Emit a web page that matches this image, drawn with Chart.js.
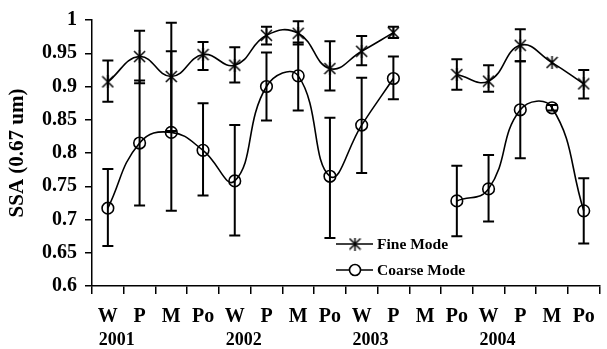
<!DOCTYPE html>
<html lang="en">
<head>
    <meta charset="UTF-8">
    <title>SSA Fine / Coarse Mode</title>
    <script src="https://cdn.jsdelivr.net/npm/chart.js"></script>
    <style>
        html, body { margin: 0; padding: 0; background: #fff; }
        #wrap { width: 607px; height: 349px; }
    </style>
</head>
<body>
    <div id="wrap"><canvas id="ssa-chart"></canvas></div>

    <script>
        // Seasons per year (W, P, M, Po) and the years under them
        const categories = ['W','P','M','Po','W','P','M','Po','W','P','M','Po','W','P','M','Po'];
        const years = ['2001', '2002', '2003', '2004'];

        // Fine mode SSA with error bar ends
        const fineSSA   = [0.907, 0.945, 0.915, 0.948, 0.932, 0.977, 0.980, 0.927, 0.953, 0.981, null, 0.918, 0.908, 0.962, 0.936, 0.904];
        const fineUpper = [0.939, 0.984, 0.996, 0.967, 0.959, 0.990, 0.998, 0.968, 0.976, 0.990, null, 0.941, 0.932, 0.986, null, 0.925];
        const fineLower = [0.877, 0.905, 0.833, 0.925, 0.906, 0.963, 0.963, 0.894, 0.932, 0.973, null, 0.895, 0.892, 0.938, null, 0.882];

        // Coarse mode SSA with error bar ends
        const coarseSSA   = [0.717, 0.815, 0.831, 0.804, 0.758, 0.900, 0.916, 0.765, 0.842, 0.912, null, 0.728, 0.746, 0.865, 0.868, 0.713];
        const coarseUpper = [0.776, 0.909, 0.953, 0.875, 0.842, 0.951, 0.966, 0.853, 0.913, 0.945, null, 0.781, 0.797, 0.938, 0.872, 0.762];
        const coarseLower = [0.660, 0.721, 0.713, 0.736, 0.676, 0.849, 0.864, 0.672, 0.770, 0.881, null, 0.675, 0.697, 0.792, 0.864, 0.664];

        const FONT = "'Liberation Serif', 'Times New Roman', serif";

        // Excel-like star marker: an X with a vertical stroke
        function makeStar(size) {
            const c = document.createElement('canvas');
            c.width = size; c.height = size;
            const g = c.getContext('2d');
            const m = 1, s = size - 1;
            g.strokeStyle = '#000';
            g.lineWidth = 1.5;
            g.beginPath();
            g.moveTo(m, m); g.lineTo(s, s);
            g.moveTo(s, m); g.lineTo(m, s);
            g.moveTo(size / 2, 0); g.lineTo(size / 2, size);
            g.stroke();
            return c;
        }
        const starMarker = makeStar(13);

        const errorBars = {
            id: 'errorBars',
            afterDatasetsDraw(chart) {
                const ctx = chart.ctx;
                const y = chart.scales.y;
                const sets = [[fineUpper, fineLower], [coarseUpper, coarseLower]];
                ctx.save();
                ctx.strokeStyle = '#000';
                ctx.lineWidth = 2;
                sets.forEach(([up, lo], di) => {
                    const meta = chart.getDatasetMeta(di);
                    meta.data.forEach((pt, i) => {
                        if (up[i] == null || lo[i] == null) return;
                        const x = pt.x, yt = y.getPixelForValue(up[i]), yb = y.getPixelForValue(lo[i]);
                        ctx.beginPath();
                        ctx.moveTo(x, yt); ctx.lineTo(x, yb);
                        ctx.moveTo(x - 5.5, yt); ctx.lineTo(x + 5.5, yt);
                        ctx.moveTo(x - 5.5, yb); ctx.lineTo(x + 5.5, yb);
                        ctx.stroke();
                    });
                });
                ctx.restore();
            }
        };

        const yearLabels = {
            id: 'yearLabels',
            afterDraw(chart) {
                const ctx = chart.ctx;
                const x = chart.scales.x;
                const step = x.getPixelForValue(1) - x.getPixelForValue(0);
                ctx.save();
                ctx.fillStyle = '#000';
                ctx.font = 'bold 18px ' + FONT;
                ctx.textAlign = 'center';
                ctx.textBaseline = 'middle';
                years.forEach((yr, k) => {
                    ctx.fillText(yr, x.getPixelForValue(k * 4) + step * 0.28, 340);
                });
                ctx.restore();
            }
        };

        const insideLegend = {
            id: 'insideLegend',
            afterDraw(chart) {
                const ctx = chart.ctx;
                const rows = [['Fine Mode', 'star', 244], ['Coarse Mode', 'circle', 270]];
                ctx.save();
                ctx.strokeStyle = '#000';
                ctx.fillStyle = '#000';
                ctx.lineWidth = 1.6;
                ctx.font = 'bold 15.5px ' + FONT;
                ctx.textBaseline = 'middle';
                rows.forEach(([label, mk, ly]) => {
                    ctx.beginPath();
                    ctx.moveTo(336, ly); ctx.lineTo(373, ly);
                    ctx.stroke();
                    if (mk === 'star') {
                        ctx.drawImage(starMarker, 355 - 6.5, ly - 6.5);
                    } else {
                        ctx.beginPath();
                        ctx.arc(355, ly, 5.5, 0, Math.PI * 2);
                        ctx.fillStyle = '#fff';
                        ctx.fill();
                        ctx.stroke();
                        ctx.fillStyle = '#000';
                    }
                    ctx.fillText(label, 377, ly + 1);
                });
                ctx.restore();
            }
        };

        new Chart(document.getElementById('ssa-chart'), {
            type: 'line',
            data: {
                labels: categories,
                datasets: [{
                    label: 'Fine Mode',
                    data: fineSSA,
                    borderColor: '#000',
                    borderWidth: 1.6,
                    tension: 0.45,
                    pointStyle: starMarker,
                    spanGaps: false
                }, {
                    label: 'Coarse Mode',
                    data: coarseSSA,
                    borderColor: '#000',
                    borderWidth: 1.6,
                    tension: 0.45,
                    pointStyle: 'circle',
                    pointRadius: 5.8,
                    pointBorderWidth: 1.6,
                    pointBorderColor: '#000',
                    pointBackgroundColor: 'rgba(0,0,0,0)',
                    spanGaps: false
                }]
            },
            options: {
                responsive: true,
                maintainAspectRatio: false,
                animation: false,
                layout: { padding: { top: 18, right: 0, left: 0, bottom: 0 } },
                plugins: {
                    legend: { display: false },
                    tooltip: { enabled: false }
                },
                scales: {
                    x: {
                        offset: true,
                        afterFit(scale) { scale.height = 63; },
                        grid: {
                            offset: true,
                            drawOnChartArea: false,
                            color: '#000',
                            lineWidth: 1.5,
                            tickLength: 8
                        },
                        border: { color: '#000', width: 1.5 },
                        ticks: {
                            color: '#000',
                            font: { family: FONT, size: 20, weight: 'bold' },
                            padding: 11,
                            maxRotation: 0,
                            autoSkip: false
                        }
                    },
                    y: {
                        min: 0.6,
                        max: 1,
                        afterFit(scale) { scale.width = 92; },
                        title: {
                            display: true,
                            text: 'SSA (0.67 um)',
                            color: '#000',
                            font: { family: FONT, size: 21, weight: 'bold' },
                            padding: { top: 5, bottom: 0 }
                        },
                        grid: {
                            drawOnChartArea: false,
                            color: '#000',
                            lineWidth: 1.5,
                            tickLength: 7
                        },
                        border: { color: '#000', width: 1.5 },
                        ticks: {
                            stepSize: 0.05,
                            color: '#000',
                            font: { family: FONT, size: 20, weight: 'bold' },
                            padding: 8,
                            callback: v => +v.toFixed(2)
                        }
                    }
                }
            },
            plugins: [errorBars, yearLabels, insideLegend]
        });
    </script>
</body>
</html>
